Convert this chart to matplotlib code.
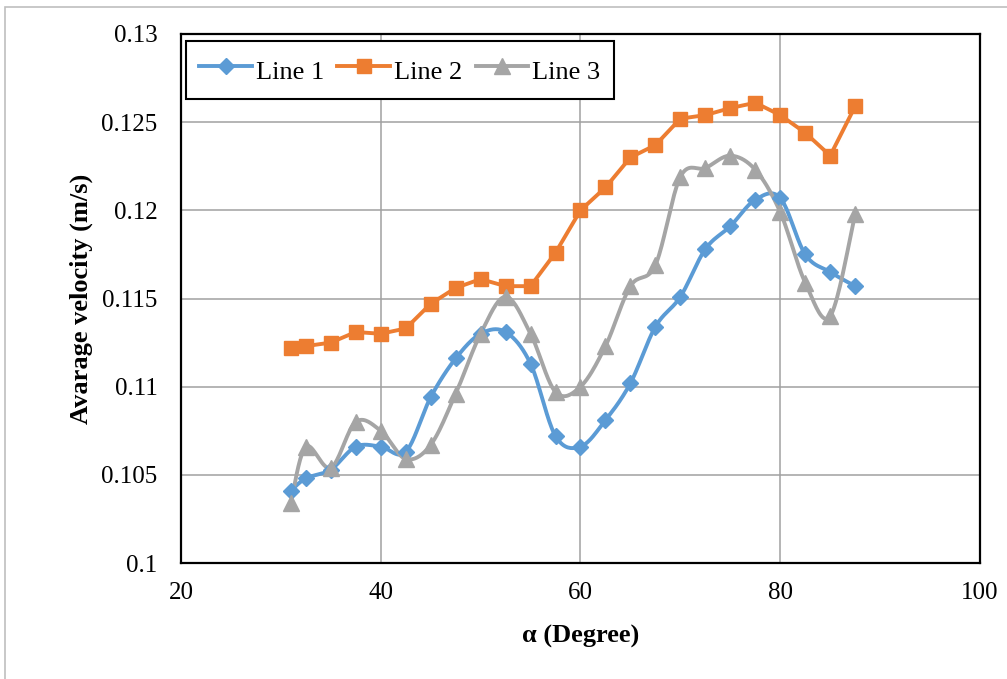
import numpy as np
import matplotlib
matplotlib.use('Agg')
import matplotlib.pyplot as plt
from matplotlib.patches import Rectangle

plt.rcParams['font.family'] = ['Liberation Serif', 'DejaVu Serif']

alpha = [31, 32.5, 35, 37.5, 40, 42.5, 45, 47.5, 50, 52.5, 55, 57.5,
         60, 62.5, 65, 67.5, 70, 72.5, 75, 77.5, 80, 82.5, 85, 87.5]

line1 = [0.1041, 0.1048, 0.1053, 0.1066, 0.1066, 0.1063, 0.1094, 0.1116,
         0.1130, 0.1131, 0.1113, 0.1072, 0.1066, 0.1081, 0.1102, 0.1134,
         0.1151, 0.1178, 0.1191, 0.1206, 0.1207, 0.1175, 0.1165, 0.1157]
line2 = [0.1122, 0.1123, 0.1125, 0.1131, 0.1130, 0.1133, 0.1147, 0.1156,
         0.1161, 0.1157, 0.1157, 0.1176, 0.1200, 0.1213, 0.1230, 0.1237,
         0.1252, 0.1254, 0.1258, 0.1261, 0.1254, 0.1244, 0.1231, 0.1259]
line3 = [0.1034, 0.1066, 0.1054, 0.1080, 0.1075, 0.1059, 0.1067, 0.1096,
         0.1130, 0.1151, 0.1130, 0.1097, 0.1100, 0.1123, 0.1157, 0.1169,
         0.1219, 0.1224, 0.1231, 0.1223, 0.1199, 0.1159, 0.1140, 0.1198]

yticks = [0.1, 0.105, 0.11, 0.115, 0.12, 0.125, 0.13]
ytick_labels = ['0.1', '0.105', '0.11', '0.115', '0.12', '0.125', '0.13']
xticks = [20, 40, 60, 80, 100]


def smooth(x, y, n=20):
    # bezier smoothing through every point, control points from neighbours
    p = np.column_stack([x, y]).astype(float)
    ext = np.vstack([p[0], p, p[-1]])
    out = []
    t = np.linspace(0, 1, n, endpoint=False)[:, None]
    for i in range(len(p) - 1):
        p0, p1, p2, p3 = ext[i], ext[i + 1], ext[i + 2], ext[i + 3]
        c1 = p1 + (p2 - p0) / 6
        c2 = p2 - (p3 - p1) / 6
        seg = ((1 - t) ** 3) * p1 + 3 * ((1 - t) ** 2) * t * c1 + 3 * (1 - t) * t ** 2 * c2 + t ** 3 * p2
        out.append(seg)
    out.append(p[-1][None, :])
    out = np.vstack(out)
    return out[:, 0], out[:, 1]


blue = '#5B9BD5'
orange = '#ED7D31'
grey = '#A5A5A5'

fig = plt.figure(figsize=(10.07, 6.79), dpi=100)
ax = fig.add_axes([181 / 1007, 1 - 563 / 679, (980 - 181) / 1007, (563 - 34) / 679])

# outer chart border
fig.patches.append(Rectangle((5 / 1007, -0.1), 1.2, 1 - 7 / 679 + 0.1, transform=fig.transFigure,
                             fill=False, edgecolor='#BFBFBF', linewidth=1.2))

sx, sy = smooth(alpha, line1)
ax.plot(sx, sy, color=blue, lw=2.8, zorder=3)
ax.plot(alpha, line1, linestyle='none', marker='D', markersize=8.5, color=blue, zorder=4)

ax.plot(alpha, line2, color=orange, lw=2.8, marker='s', markersize=10.5, zorder=3)

sx, sy = smooth(alpha, line3)
ax.plot(sx, sy, color=grey, lw=2.8, zorder=3)
ax.plot(alpha, line3, linestyle='none', marker='^', markersize=11, color=grey, zorder=4)

# legend handles with a single marker in the middle
h1, = ax.plot([], [], color=blue, lw=2.8, marker='D', markersize=8.5)
h2, = ax.plot([], [], color=orange, lw=2.8, marker='s', markersize=10.5)
h3, = ax.plot([], [], color=grey, lw=2.8, marker='^', markersize=11)
leg = fig.legend([h1, h2, h3], ['Line 1', 'Line 2', 'Line 3'], ncol=3,
                 loc='upper left', bbox_to_anchor=(186 / 1007, 1 - 41 / 679),
                 borderaxespad=0, fontsize=19, frameon=True, fancybox=False,
                 edgecolor='black', framealpha=1, handlelength=2.0,
                 handleheight=1.45, handletextpad=0.15, columnspacing=0.5,
                 borderpad=0.5, numpoints=1)
leg.get_frame().set_linewidth(1.5)

ax.set_xlim(20, 100)
ax.set_ylim(0.1, 0.13)
ax.set_xticks(xticks)
ax.set_yticks(yticks)
ax.set_yticklabels(ytick_labels)
ax.tick_params(length=0, labelsize=18)
ax.tick_params(axis='y', pad=17)
ax.tick_params(axis='x', pad=14)
ax.grid(True, color='#A0A0A0', linewidth=1.1)
ax.set_axisbelow(True)
for s in ax.spines.values():
    s.set_linewidth(1.6)

ax.set_xlabel('α (Degree)', fontsize=19, fontweight='bold', labelpad=15)
ax.set_ylabel('Avarage velocity (m/s)', fontsize=19, fontweight='bold', labelpad=6)

fig.savefig('out.png', dpi=100)
